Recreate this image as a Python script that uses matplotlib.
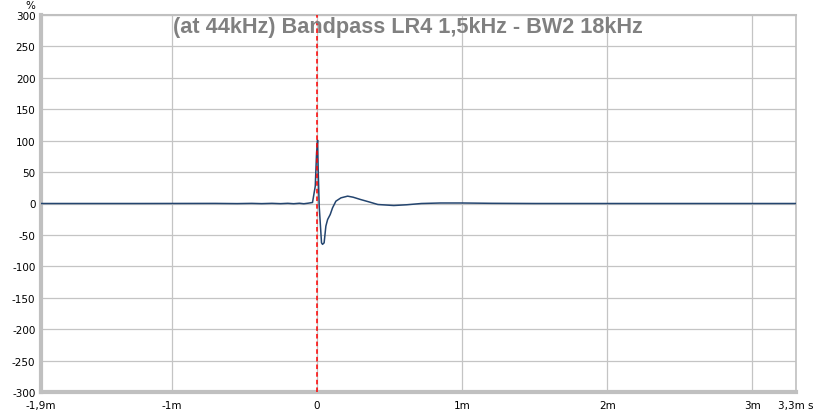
import matplotlib
matplotlib.use('Agg')
import matplotlib.pyplot as plt

# impulse response (time in ms, amplitude in %)
time_ms = [-1.90, -1.20, -0.70, -0.55, -0.45, -0.38, -0.31, -0.25, -0.20, -0.16,
           -0.12, -0.09, -0.06, -0.030, -0.011, -0.002, 0.005, 0.009, 0.016,
           0.032, 0.039, 0.050, 0.062, 0.074, 0.092, 0.108, 0.131, 0.166,
           0.212, 0.25, 0.30, 0.36, 0.42, 0.53, 0.62, 0.72, 0.85, 1.0, 1.2,
           1.5, 2.0, 3.3]
amplitude = [0.0, 0.0, 0.15, -0.15, 0.2, -0.2, 0.25, -0.25, 0.3, -0.35,
             0.4, -0.4, 0.5, 1.6, 27.6, 80.7, 100.8, 54.0, -4.0,
             -62.6, -65.0, -62.6, -36.0, -25.5, -17.5, -6.9, 3.7, 9.0,
             11.7, 10.0, 6.4, 2.5, -1.6, -3.2, -2.0, 0.0, 0.8, 0.8, 0.3,
             0.0, 0.0, 0.0]

x_ticks = [-1.9, -1, 0, 1, 2, 3, 3.3]
x_labels = ['-1,9m', '-1m', '0', '1m', '2m', '3m', '3,3m s']
y_ticks = list(range(-300, 301, 50))

title = '(at 44kHz) Bandpass LR4 1,5kHz - BW2 18kHz'

fig = plt.figure(figsize=(8.15, 4.14), dpi=100)
ax = fig.add_axes([41 / 815, 21 / 414, 755 / 815, 377 / 414])

ax.plot(time_ms, amplitude, color='#24456f', linewidth=1.1, zorder=3)
ax.axvline(0, color='#ff0000', linestyle=(0, (3, 2)), linewidth=1.1, zorder=4)

ax.set_xlim(-1.9, 3.3)
ax.set_ylim(-300, 300)
ax.set_xticks(x_ticks)
ax.set_xticklabels(x_labels)
ax.set_yticks(y_ticks)
ax.set_yticklabels([str(v) for v in y_ticks])
ax.tick_params(axis='x', length=0, labelsize=7.5, pad=6)
ax.tick_params(axis='y', length=0, labelsize=7.5, pad=4)
ax.grid(True, color='#c4c4c4', linewidth=0.9)
ax.set_axisbelow(True)

# REW-like frame: heavy left/bottom, light top/right
for side, lw in [('left', 3.0), ('bottom', 3.0), ('top', 1.5), ('right', 1.2)]:
    ax.spines[side].set_color('#c0c0c0')
    ax.spines[side].set_linewidth(lw)

fig.text(30 / 815, 1 - 6 / 414, '%', fontsize=7.5, ha='center', va='center')
fig.text(0.5, 1 - 28 / 414, title, fontsize=15.6, fontweight='bold',
         family='Liberation Sans', color='#808080', ha='center', va='center')

fig.savefig('out.png', dpi=100, facecolor='white')
